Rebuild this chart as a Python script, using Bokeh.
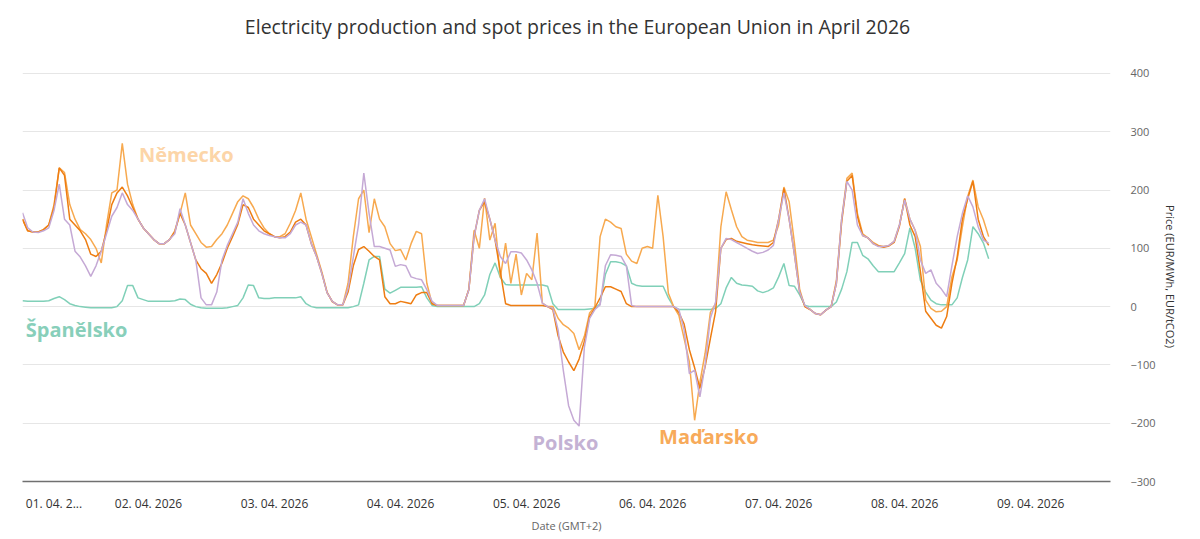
from bokeh.plotting import figure
from bokeh.models import Range1d, FixedTicker, Label
from bokeh.embed import file_html
from bokeh.resources import INLINE

# hourly index from 01.04.2026 00:00 (GMT+2)
hours = list(range(185))

polsko = [
    161, 135, 128, 127, 130, 135, 165, 210, 150, 140, 95, 85, 70, 52, 70, 95, 125, 155, 170, 195, 175, 165, 150, 135,
    125, 115, 108, 108, 115, 125, 168, 140, 110, 80, 15, 3, 3, 25, 80, 105, 125, 145, 185, 160, 140, 130, 125, 122,
    120, 118, 118, 125, 140, 145, 140, 108, 86, 57, 24, 9, 3, 3, 31, 85, 140, 229, 160, 103, 103, 100, 97, 69,
    72, 70, 51, 48, 46, 29, 9, 2, 2, 2, 2, 2, 2, 29, 120, 165, 185, 150, 114, 86, 74, 94, 94, 92,
    80, 63, 40, 6, 0, -3, -40, -110, -170, -195, -205, -70, -20, -5, 3, 70, 89, 88, 86, 70, 2, 0, 0, 0,
    0, 0, 0, 0, 0, -5, -40, -115, -109, -155, -100, -20, 8, 100, 117, 115, 110, 105, 100, 95, 91, 93, 97, 105,
    149, 195, 150, 90, 25, 2, -5, -12, -14, -6, 0, 40, 150, 215, 200, 140, 122, 118, 108, 103, 103, 105, 112, 140,
    183, 150, 131, 80, 57, 63, 40, 30, 17, 70, 120, 160, 190, 171, 137, 114, 109,
]

madarsko = [
    150, 130, 128, 128, 132, 140, 175, 238, 230, 175, 150, 132, 125, 115, 100, 75, 140, 195, 200, 280, 210, 175, 150, 135,
    125, 115, 108, 108, 115, 130, 160, 195, 140, 125, 110, 102, 103, 115, 125, 140, 160, 180, 190, 185, 170, 150, 135, 125,
    120, 120, 125, 143, 165, 195, 150, 120, 90, 60, 25, 8, 3, 3, 40, 120, 185, 200, 127, 185, 150, 137, 108, 96,
    98, 80, 108, 129, 125, 40, 5, 2, 2, 2, 2, 2, 2, 30, 131, 100, 186, 114, 143, 50, 109, 40, 90, 20,
    57, 46, 126, 6, 0, 0, -20, -31, -37, -46, -74, -51, -11, 0, 120, 150, 145, 137, 134, 90, 78, 74, 100, 103,
    100, 191, 120, 23, 0, -15, -55, -95, -195, -130, -80, -10, 5, 137, 197, 166, 137, 120, 114, 112, 110, 110, 110, 114,
    140, 205, 180, 110, 30, 0, -5, -12, -14, -6, 0, 45, 150, 220, 229, 160, 125, 118, 110, 105, 103, 105, 112, 140,
    185, 150, 131, 103, 11, -3, -9, -8, 0, 51, 80, 137, 189, 217, 171, 149, 120,
]

nemecko = [
    150, 130, 128, 128, 132, 140, 170, 238, 225, 150, 140, 130, 115, 90, 86, 95, 130, 175, 195, 205, 190, 170, 150, 135,
    125, 115, 108, 108, 115, 128, 160, 140, 110, 80, 65, 57, 40, 55, 75, 100, 120, 141, 175, 170, 150, 140, 130, 125,
    120, 118, 120, 128, 145, 150, 140, 108, 86, 57, 24, 9, 3, 3, 25, 70, 98, 103, 95, 86, 80, 17, 5, 5,
    9, 7, 5, 20, 24, 24, 5, 2, 2, 2, 2, 2, 2, 29, 120, 165, 180, 150, 114, 60, 5, 2, 2, 2,
    2, 2, 2, 2, 0, -5, -50, -78, -95, -110, -90, -60, -17, -2, 15, 34, 34, 30, 26, 5, 0, 0, 0, 0,
    0, 0, 0, 0, 0, -10, -30, -74, -105, -140, -103, -55, -8, 100, 115, 117, 112, 110, 108, 106, 105, 104, 103, 110,
    150, 203, 150, 90, 25, 0, -5, -12, -14, -6, 0, 40, 145, 215, 225, 155, 122, 118, 108, 104, 102, 104, 110, 138,
    185, 140, 120, 60, -8, -20, -32, -37, -17, 40, 85, 150, 185, 215, 150, 120, 105,
]

spanelsko = [
    10, 9, 9, 9, 9, 10, 14, 17, 12, 5, 2, 0, -1, -2, -2, -2, -2, -2, 0, 10, 36, 36, 15, 12,
    9, 9, 9, 9, 9, 10, 13, 12, 4, 0, -2, -3, -3, -3, -3, -2, 0, 2, 15, 37, 36, 15, 14, 14,
    15, 15, 15, 15, 15, 17, 5, 0, -2, -2, -2, -2, -2, -2, -2, 0, 3, 40, 80, 86, 86, 30, 23, 28,
    33, 33, 33, 33, 34, 15, 2, 0, 0, 0, 0, 0, 0, 0, 0, 5, 20, 55, 75, 50, 38, 37, 37, 37,
    37, 37, 37, 37, 35, 5, -5, -5, -5, -5, -5, -5, -4, -3, 5, 55, 77, 77, 75, 70, 40, 36, 35, 35,
    35, 35, 35, 15, 0, -5, -5, -5, -5, -5, -5, -5, -3, 5, 32, 50, 40, 37, 36, 35, 27, 24, 27, 32,
    51, 74, 36, 35, 20, 2, 0, 0, 0, 0, 0, 8, 30, 60, 110, 110, 88, 82, 70, 60, 60, 60, 60, 75,
    91, 135, 100, 45, 25, 11, 5, 3, 3, 3, 15, 50, 80, 137, 125, 109, 82,
]

tick_hours = [6, 24, 48, 72, 96, 120, 144, 168, 192]
tick_labels = ["01. 04. 2...", "02. 04. 2026", "03. 04. 2026", "04. 04. 2026", "05. 04. 2026",
               "06. 04. 2026", "07. 04. 2026", "08. 04. 2026", "09. 04. 2026"]
price_ticks = [-300, -200, -100, 0, 100, 200, 300, 400]

series_names = ["Španělsko", "Maďarsko", "Německo", "Polsko"]
line_colors = ["#80d0b8", "#f7a94f", "#ee7d12", "#c5a9d5"]
label_colors = ["#88cfba", "#f7aa5a", "#fcd5a8", "#c4b2d4"]
label_x = [10.3, 130.7, 31.2, 103.4]
label_y = [-39, -223, 261, -233]

title_text = "Electricity production and spot prices in the European Union in April 2026"
price_label = "Price (EUR/MWh, EUR/tCO2)"

# the frame extends above the 400 gridline so that the title can sit inside it
p = figure(frame_width=1088, frame_height=476, output_backend="svg", toolbar_location=None,
           x_range=Range1d(0, 207.2), y_range=Range1d(-300, 516.5),
           y_axis_location="right", min_border_left=22, min_border_top=5,
           min_border_right=80, min_border_bottom=45)

p.outline_line_color = None
p.background_fill_color = "white"
p.border_fill_color = "white"
p.xgrid.visible = False
p.ygrid.grid_line_color = "#e6e6e6"
p.ygrid.grid_line_width = 1

xa = p.xaxis[0]
xa.ticker = FixedTicker(ticks=tick_hours)
xa.major_label_overrides = dict(zip(tick_hours, tick_labels))
xa.major_tick_line_color = None
xa.minor_tick_line_color = None
xa.axis_line_color = "#707070"
xa.axis_line_width = 1.5
xa.major_label_text_font = "Open Sans"
xa.major_label_text_font_size = "12px"
xa.major_label_text_color = "#333333"
xa.major_label_standoff = 7
xa.axis_label = "Date (GMT+2)"
xa.axis_label_text_font = "Open Sans"
xa.axis_label_text_font_size = "11px"
xa.axis_label_text_font_style = "normal"
xa.axis_label_text_color = "#666666"
xa.axis_label_standoff = 3

ya = p.yaxis[0]
ya.ticker = FixedTicker(ticks=price_ticks)
ya.bounds = (-300, 400)
ya.major_tick_line_color = None
ya.minor_tick_line_color = None
ya.axis_line_color = None
ya.major_label_text_font = "Open Sans"
ya.major_label_text_font_size = "11px"
ya.major_label_text_color = "#666666"
ya.major_label_standoff = 14
# leading em-spaces push the centred title down to the middle of the -300..400 span
ya.axis_label = "\u2003" * 6 + price_label
ya.axis_label_text_font = "Open Sans"
ya.axis_label_text_font_size = "11px"
ya.axis_label_text_font_style = "normal"
ya.axis_label_text_color = "#333333"
ya.axis_label_standoff = 4

for vals, col in zip([spanelsko, madarsko, nemecko, polsko], line_colors):
    p.line(hours, vals, line_color=col, line_width=1.5)

for name, col, lx, ly in zip(series_names, label_colors, label_x, label_y):
    p.add_layout(Label(x=lx, y=ly, text=name, text_font="Open Sans", text_font_size="20px",
                       text_font_style="bold", text_color=col, text_align="center",
                       text_baseline="middle"))

p.add_layout(Label(x=105.7, y=480, text=title_text, text_font="Open Sans",
                   text_font_size="19.5px", text_color="#333333",
                   text_align="center", text_baseline="middle"))

open("out.html", "w").write(file_html(p, INLINE))
